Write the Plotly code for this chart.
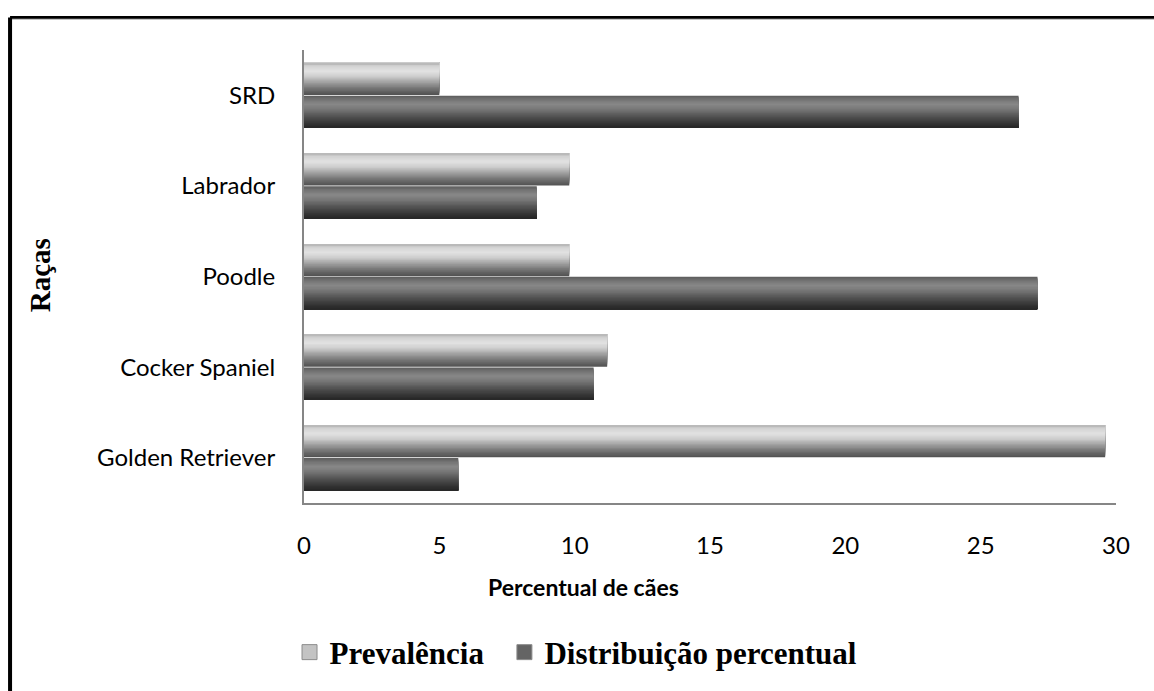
import numpy as np
import plotly.graph_objects as go

categories = ["Golden Retriever", "Cocker Spaniel", "Poodle", "Labrador", "SRD"]
prevalencia = [29.6, 11.2, 9.8, 9.8, 5.0]
distribuicao = [5.7, 10.7, 27.1, 8.6, 26.4]
series_names = ["Prevalência", "Distribuição percentual"]
x_ticks = [0, 5, 10, 15, 20, 25, 30]

# cylinder shading profiles (position from top of bar -> gray level)
prof_pos = [0.0, 0.1, 0.26, 0.42, 0.6, 0.78, 0.92, 1.0]
prev_gray = [180, 210, 226, 206, 162, 120, 94, 80]
dist_gray = [92, 112, 136, 120, 90, 64, 46, 38]

N = 24
bw = 0.355
gap = 0.004

fig = go.Figure()

def add_series(values, grays, sign, name, legend_gray, legend_suffix):
    w = bw / N
    for k in range(N):
        # each strip reaches the outer edge; later strips cover earlier ones
        if sign > 0:
            base = gap + k * w
            off = base
            width = gap + bw - base
            t = 1 - (k + 0.5) / N
        else:
            top = -gap - k * w
            off = -gap - bw
            width = top - off
            t = (k + 0.5) / N
        g = int(round(np.interp(t, prof_pos, grays)))
        fig.add_trace(go.Bar(
            y=categories, x=values, orientation="h",
            offset=off, width=width,
            marker=dict(color=f"rgb({g},{g},{g})", line=dict(width=0)),
            showlegend=False, hoverinfo="skip",
        ))
    fig.add_trace(go.Scatter(
        y=[None], x=[None], mode="markers", name=name + legend_suffix,
        marker=dict(symbol="square", size=15,
                    color=f"rgb({legend_gray},{legend_gray},{legend_gray})",
                    line=dict(width=1, color="rgb(140,140,140)")),
        showlegend=True, hoverinfo="skip",
    ))

add_series(prevalencia, prev_gray, +1, series_names[0], 195, "&nbsp;&nbsp;")
add_series(distribuicao, dist_gray, -1, series_names[1], 100, "")

fig.update_layout(
    width=1154, height=691,
    margin=dict(l=304, r=38, t=50, b=182),
    paper_bgcolor="white", plot_bgcolor="white",
    barmode="overlay",
    xaxis=dict(range=[0, 30], tickvals=x_ticks, ticktext=[str(v) for v in x_ticks],
               showgrid=False, zeroline=False, showline=True, linecolor="rgb(134,134,134)",
               linewidth=2, ticks="", ticklabelstandoff=20,
               tickfont=dict(family="Lato", size=24, color="black")),
    yaxis=dict(type="category", categoryorder="array", categoryarray=categories,
               range=[-0.5, 4.5], showgrid=False, zeroline=False, showline=True,
               linecolor="rgb(134,134,134)", linewidth=2, ticks="", ticklabelstandoff=22,
               tickfont=dict(family="Lato", size=24, color="black")),
    legend=dict(orientation="h", x=0.335, xanchor="center", y=-0.33, yanchor="middle",
                font=dict(family="Liberation Serif", size=31, color="black", weight="bold"),
                itemwidth=30, traceorder="normal", bgcolor="rgba(0,0,0,0)"),
    annotations=[
        dict(text="<b>Percentual de cães</b>", xref="paper", yref="paper",
             x=0.344, y=-0.186, showarrow=False, xanchor="center", yanchor="middle",
             font=dict(family="Lato", size=23, color="black")),
        dict(text="<b>Raças</b>", xref="paper", yref="paper", textangle=-90,
             x=-0.325, y=0.503, showarrow=False, xanchor="center", yanchor="middle",
             font=dict(family="Liberation Serif", size=29, color="black")),
    ],
    shapes=[
        dict(type="line", xref="paper", yref="paper", x0=-0.362, x1=1.2, y0=1.072, y1=1.072,
             line=dict(color="black", width=3)),
        dict(type="line", xref="paper", yref="paper", x0=-0.362, x1=1.2, y0=1.068, y1=1.068,
             line=dict(color="rgb(170,170,170)", width=1)),
        dict(type="line", xref="paper", yref="paper", x0=-0.362, x1=-0.362, y0=-1.0, y1=1.072,
             line=dict(color="black", width=4)),
    ],
)

fig.write_html("out.html")
